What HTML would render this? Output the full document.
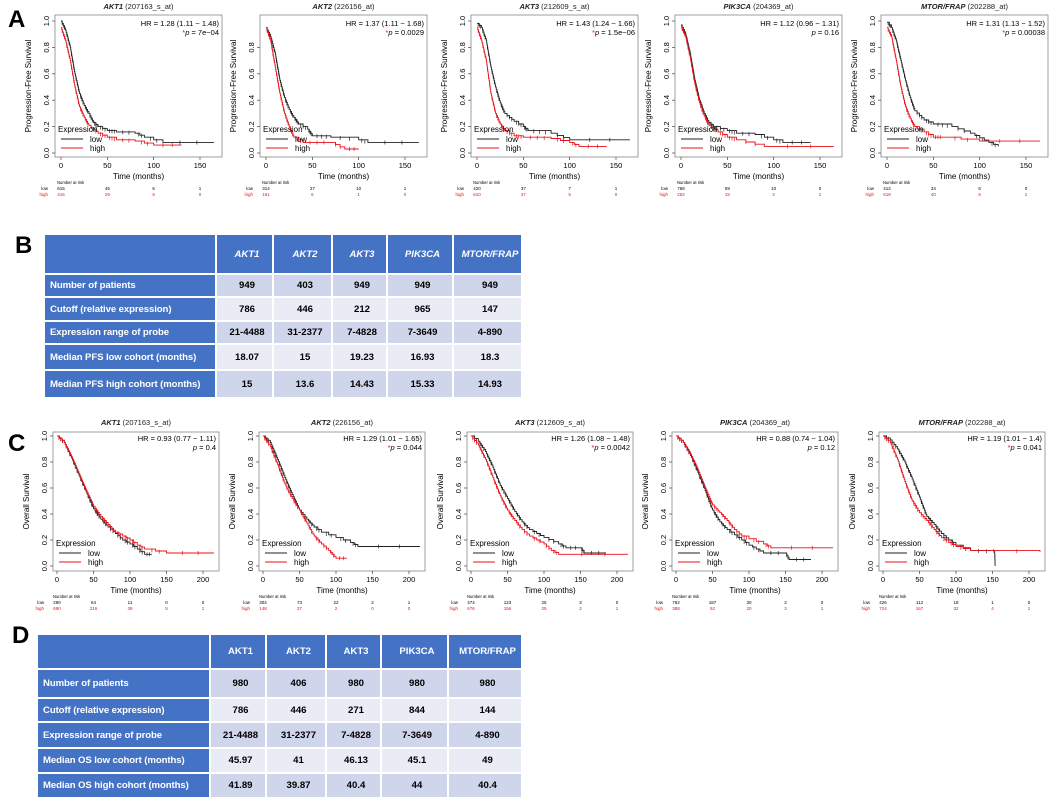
<!DOCTYPE html>
<html><head><meta charset="utf-8">
<style>
body{margin:0;background:#fff;width:1050px;height:798px;overflow:hidden;position:relative;font-family:"Liberation Sans",sans-serif}
svg{position:absolute;left:0;top:0}
.tbl{position:absolute;border-collapse:collapse;font-family:"Liberation Sans",sans-serif;font-size:9.6px;font-weight:bold;table-layout:fixed}
.tbl td{border:2px solid #fff;padding:0 0 0 5px;color:#000;text-align:center;white-space:nowrap;overflow:hidden}
.tbl td.lab{background:#4472c4;color:#fff;text-align:left;letter-spacing:-0.1px}
.tbl tr.h td{background:#4472c4;color:#fff}
.tbl tr.o td{background:#cfd5ea}
.tbl tr.e td{background:#e9ebf5}
.tbl tr.o td.lab,.tbl tr.e td.lab{background:#4472c4}
.letter{position:absolute;font-weight:bold;font-size:24px;font-family:"Liberation Sans",sans-serif}
</style></head><body>
<div class="letter" style="left:8px;top:6px">A</div>
<div class="letter" style="left:15px;top:232px">B</div>
<div class="letter" style="left:8px;top:430px">C</div>
<div class="letter" style="left:12px;top:622px">D</div>

<table class="tbl" style="left:43px;top:233px;width:480px">
<colgroup><col style="width:172px"><col style="width:57px"><col style="width:59px"><col style="width:55px"><col style="width:66px"><col></colgroup>
<tr class="h" style="height:40px"><td></td><td><i>AKT1</i></td><td><i>AKT2</i></td><td><i>AKT3</i></td><td><i>PIK3CA</i></td><td><i>MTOR/FRAP</i></td></tr>
<tr class="o" style="height:23px"><td class="lab">Number of patients</td><td>949</td><td>403</td><td>949</td><td>949</td><td>949</td></tr>
<tr class="e" style="height:24px"><td class="lab">Cutoff (relative expression)</td><td>786</td><td>446</td><td>212</td><td>965</td><td>147</td></tr>
<tr class="o" style="height:23px"><td class="lab">Expression range of probe</td><td>21-4488</td><td>31-2377</td><td>7-4828</td><td>7-3649</td><td>4-890</td></tr>
<tr class="e" style="height:26px"><td class="lab">Median PFS low cohort (months)</td><td>18.07</td><td>15</td><td>19.23</td><td>16.93</td><td>18.3</td></tr>
<tr class="o" style="height:28px"><td class="lab">Median PFS high cohort (months)</td><td>15</td><td>13.6</td><td>14.43</td><td>15.33</td><td>14.93</td></tr>
</table>

<table class="tbl" style="left:36px;top:633px;width:487px">
<colgroup><col style="width:173px"><col style="width:56px"><col style="width:60px"><col style="width:55px"><col style="width:67px"><col></colgroup>
<tr class="h" style="height:35px"><td></td><td>AKT1</td><td>AKT2</td><td>AKT3</td><td>PIK3CA</td><td>MTOR/FRAP</td></tr>
<tr class="o" style="height:29px"><td class="lab">Number of patients</td><td>980</td><td>406</td><td>980</td><td>980</td><td>980</td></tr>
<tr class="e" style="height:24px"><td class="lab">Cutoff (relative expression)</td><td>786</td><td>446</td><td>271</td><td>844</td><td>144</td></tr>
<tr class="o" style="height:26px"><td class="lab">Expression range of probe</td><td>21-4488</td><td>31-2377</td><td>7-4828</td><td>7-3649</td><td>4-890</td></tr>
<tr class="e" style="height:25px"><td class="lab">Median OS low cohort (months)</td><td>45.97</td><td>41</td><td>46.13</td><td>45.1</td><td>49</td></tr>
<tr class="o" style="height:25px"><td class="lab">Median OS high cohort (months)</td><td>41.89</td><td>39.87</td><td>40.4</td><td>44</td><td>40.4</td></tr>
</table>

<svg id="s" width="1050" height="798" xmlns="http://www.w3.org/2000/svg"></svg>
<script>
// ---- data ----
const genes = ["AKT1","AKT2","AKT3","PIK3CA","MTOR/FRAP"];
const probes = ["207163_s_at","226156_at","212609_s_at","204369_at","202288_at"];
const pfsHR = ["HR = 1.28 (1.11 − 1.48)","HR = 1.37 (1.11 − 1.68)","HR = 1.43 (1.24 − 1.66)","HR = 1.12 (0.96 − 1.31)","HR = 1.31 (1.13 − 1.52)"];
const pfsP = ["p = 7e−04","p = 0.0029","p = 1.5e−06","p = 0.16","p = 0.00038"];
const pfsSig = [true,true,true,false,true];
const osHR = ["HR = 0.93 (0.77 − 1.11)","HR = 1.29 (1.01 − 1.65)","HR = 1.26 (1.08 − 1.48)","HR = 0.88 (0.74 − 1.04)","HR = 1.19 (1.01 − 1.4)"];
const osP = ["p = 0.4","p = 0.044","p = 0.0042","p = 0.12","p = 0.041"];
const osSig = [false,true,true,false,true];
const pfsTicksX = [0,50,100,150];
const osTicksX = [0,50,100,150,200];
const ticksY = [0,0.2,0.4,0.6,0.8,1.0];
const pfsRiskLow = [[615,45,6,1],[314,27,10,1],[420,37,7,1],[768,59,10,0],[412,34,6,0]];
const pfsRiskHigh = [[415,29,6,0],[161,6,1,0],[610,37,5,0],[262,15,2,1],[618,40,6,1]];
const osRiskLow = [[290,64,11,0,0],[304,73,22,2,1],[474,123,25,3,0],[762,187,30,2,0],[426,112,18,1,0]];
const osRiskHigh = [[690,216,39,5,1],[148,37,2,0,0],[676,156,25,2,1],[388,92,20,3,1],[724,167,32,4,1]];
const pfsLow = [
 [[0,1],[5,.93],[10,.8],[15,.6],[20,.45],[25,.36],[30,.3],[35,.23],[40,.2],[50,.17],[60,.16],[80,.15],[90,.12],[110,.08],[165,.08]],
 [[0,.95],[5,.88],[10,.75],[15,.55],[20,.42],[25,.33],[30,.27],[35,.22],[45,.18],[50,.13],[70,.12],[100,.1],[110,.08],[165,.08]],
 [[0,.98],[5,.95],[10,.85],[15,.65],[20,.5],[25,.38],[30,.3],[40,.24],[50,.2],[55,.17],[80,.15],[100,.1],[165,.1]],
 [[0,.97],[5,.9],[10,.75],[15,.55],[20,.4],[25,.3],[30,.23],[35,.2],[50,.17],[60,.15],[80,.14],[100,.1],[110,.08],[140,.08]],
 [[0,.99],[5,.95],[10,.85],[15,.7],[20,.55],[25,.42],[30,.32],[40,.25],[50,.22],[70,.2],[90,.15],[110,.08],[120,.05]]];
const pfsHigh = [
 [[0,.95],[5,.85],[10,.7],[15,.5],[20,.35],[25,.27],[30,.21],[40,.15],[50,.12],[60,.1],[80,.09],[100,.06],[130,.06]],
 [[0,.95],[5,.85],[10,.65],[15,.45],[20,.3],[25,.2],[30,.12],[40,.08],[70,.08],[85,.03],[100,.03]],
 [[0,.95],[5,.85],[10,.7],[15,.45],[20,.3],[25,.22],[30,.17],[40,.13],[50,.12],[80,.11],[100,.08],[110,.05],[140,.05]],
 [[0,.96],[5,.88],[10,.72],[15,.52],[20,.38],[25,.28],[30,.21],[40,.16],[50,.12],[60,.1],[90,.05],[165,.05]],
 [[0,.95],[5,.88],[10,.7],[15,.5],[20,.35],[25,.26],[30,.2],[40,.16],[50,.12],[60,.12],[100,.09],[165,.09]]];
const osLow = [
 [[0,1],[10,.95],[20,.83],[30,.7],[40,.57],[50,.44],[60,.36],[70,.3],[80,.25],[90,.2],[100,.17],[110,.13],[120,.09],[130,.09]],
 [[0,1],[10,.95],[20,.82],[30,.68],[40,.55],[50,.43],[60,.36],[70,.3],[80,.26],[100,.22],[120,.18],[130,.15],[215,.15]],
 [[0,1],[10,.96],[20,.88],[30,.76],[40,.62],[50,.52],[60,.42],[70,.34],[80,.28],[100,.22],[120,.17],[130,.14],[150,.14],[155,.1],[185,.1]],
 [[0,1],[10,.95],[20,.85],[30,.72],[40,.58],[50,.43],[60,.34],[70,.28],[80,.24],[90,.2],[100,.16],[120,.1],[150,.1],[155,.05],[185,.05]],
 [[0,1],[10,.97],[20,.9],[30,.8],[40,.67],[50,.53],[60,.38],[70,.32],[80,.25],[90,.2],[100,.16],[120,.12],[153,.11],[153.5,0]]];
const osHigh = [
 [[0,1],[10,.95],[20,.84],[30,.71],[40,.58],[50,.46],[60,.38],[70,.32],[80,.26],[90,.23],[100,.2],[110,.16],[120,.13],[150,.1],[215,.1]],
 [[0,1],[10,.92],[20,.78],[30,.63],[40,.52],[50,.43],[60,.33],[70,.23],[80,.17],[90,.12],[100,.06],[115,.06]],
 [[0,1],[10,.93],[20,.82],[30,.68],[40,.54],[50,.43],[60,.35],[70,.28],[80,.23],[100,.17],[110,.12],[120,.09],[215,.09]],
 [[0,1],[10,.95],[20,.86],[30,.74],[40,.6],[50,.47],[60,.41],[70,.35],[80,.28],[90,.23],[100,.21],[120,.17],[130,.14],[215,.14]],
 [[0,1],[10,.95],[20,.82],[30,.65],[40,.5],[50,.41],[60,.35],[70,.28],[80,.22],[90,.18],[100,.15],[120,.12],[215,.11]]];

const svg = document.getElementById('s');
const NS = 'http://www.w3.org/2000/svg';
function mk(tag, attrs, parent){const e=document.createElementNS(NS,tag);for(const k in attrs)e.setAttribute(k,attrs[k]);(parent||svg).appendChild(e);return e;}
function txt(x,y,s,size,attrs,parent){const t=mk('text',Object.assign({x:x,y:y,'font-size':size,'font-family':'Liberation Sans, sans-serif'},attrs||{}),parent);t.textContent=s;return t;}

function panel(i, cfg){
  const z = cfg.zeros[i];
  const g = mk('g',{});
  
  
  const xs = t => z + t*cfg.pxPerT;
  const ys = s => cfg.y0 - s*(cfg.y0-cfg.y1);
  const fr = mk('rect',{x:z+cfg.fl,y:cfg.ft,width:cfg.fw,height:cfg.fb-cfg.ft,fill:'none',stroke:'#888','stroke-width':0.8},g);
  
  
  const tt = txt(z+cfg.fl+cfg.fw/2, cfg.titleY, '', 7.5, {'text-anchor':'middle','fill':'#222'}, g);
  
  
  const ts1=mk('tspan',{'font-style':'italic','font-weight':'bold'},tt); ts1.textContent=genes[i];
  const ts2=mk('tspan',{},tt); ts2.textContent=' ('+probes[i]+')';
  cfg.ticksX.forEach(v=>{
    mk('line',{x1:xs(v),x2:xs(v),y1:cfg.fb,y2:cfg.fb+3,stroke:'#444','stroke-width':0.7},g);
    const tl=txt(xs(v),cfg.fb+11,String(v),7.5,{'text-anchor':'middle'},g);
    
    
  });
  const xt=txt(z+cfg.fl+cfg.fw/2,cfg.fb+22,'Time (months)',8,{'text-anchor':'middle'},g);
  
  
  cfg.ticksY.forEach(v=>{
    if(cfg.skipTop && cfg.skipTop[i] && v===1) return;
    const yy=ys(v);
    mk('line',{x1:z+cfg.fl,x2:z+cfg.fl-3,y1:yy,y2:yy,stroke:'#444','stroke-width':0.7},g);
    const tl=txt(z+cfg.fl-6,yy,v.toFixed(1),7.5,{'text-anchor':'middle',transform:'rotate(-90 '+(z+cfg.fl-6)+' '+yy+')'},g);
    
    
  });
  const ym=(cfg.ft+cfg.fb)/2, yx=z+cfg.yTitleDx;
  const yt=txt(yx,ym,cfg.yTitle,8,{'text-anchor':'middle',transform:'rotate(-90 '+yx+' '+ym+')'},g);
  
  
  [[cfg.low[i],'#222','low'],[cfg.high[i],'#e8131a','high']].forEach(([pts,col,nm])=>{
    // many small steps along linear segments to mimic dense KM curve
    let d='M'+xs(pts[0][0]).toFixed(1)+','+ys(pts[0][1]).toFixed(1);
    const ticks=[];
    for(let k=0;k<pts.length-1;k++){
      const [t0,s0]=pts[k],[t1,s1]=pts[k+1];
      const drop = s0-s1;
      const n = Math.max(1, Math.round(drop*60));
      for(let m=1;m<=n;m++){
        const tx=t0+(t1-t0)*m/n, sv=s0-drop*m/n;
        d+=' H'+xs(tx).toFixed(1)+' V'+ys(sv).toFixed(1);
      }
      const nt = t0<60?3:2;
      for(let m=1;m<=nt;m++){
        const f=m/(nt+1), tx=t0+(t1-t0)*f, sv=s0-drop*f;
        ticks.push([tx,sv]);
      }
    }
    const p=mk('path',{d:d,fill:'none',stroke:col,'stroke-width':0.9},g);
    
    
    ticks.forEach(([tx,sv])=>mk('line',{x1:xs(tx),x2:xs(tx),y1:ys(sv)-2,y2:ys(sv)+2,stroke:col,'stroke-width':0.7},g));
  });
  const hr=txt(z+cfg.fl+cfg.fw-3,cfg.hrY,cfg.hr[i],7.5,{'text-anchor':'end'},g);
  
  
  const pt=txt(z+cfg.fl+cfg.fw-3,cfg.hrY+9,'',7.5,{'text-anchor':'end'},g);
  
  
  if(cfg.sig[i]){const st=mk('tspan',{fill:'#e8131a'},pt);st.textContent='*';}
  const pi=mk('tspan',{'font-style':'italic'},pt);pi.textContent='p';
  const pr=mk('tspan',{},pt);pr.textContent=cfg.p[i].slice(1);
  const lx=z+cfg.fl+3, ly=cfg.legY;
  const lg=mk('g',{},g);
  
  
  txt(lx,ly,'Expression',8,{},lg);
  mk('line',{x1:lx+3,x2:lx+25,y1:ly+7,y2:ly+7,stroke:'#222','stroke-width':0.9},lg);
  txt(lx+32,ly+10,'low',8,{},lg);
  mk('line',{x1:lx+3,x2:lx+25,y1:ly+16,y2:ly+16,stroke:'#e8131a','stroke-width':0.9},lg);
  txt(lx+32,ly+19,'high',8,{},lg);
  const rg=mk('g',{},g);
  
  
  txt(xs(0)-4,cfg.riskY,'Number at risk',4.2,{},rg);
  txt(xs(0)-13,cfg.riskY+6,'low',4.5,{'text-anchor':'end'},rg);
  txt(xs(0)-13,cfg.riskY+12,'high',4.5,{'text-anchor':'end',fill:'#e8131a'},rg);
  cfg.ticksX.forEach((v,k)=>{
    txt(xs(v),cfg.riskY+6,String(cfg.rlow[i][k]),4.5,{'text-anchor':'middle'},rg);
    txt(xs(v),cfg.riskY+12,String(cfg.rhigh[i][k]),4.5,{'text-anchor':'middle',fill:'#e8131a'},rg);
  });
}
const pfsCfg={kind:'pfs',zeros:[61,266,477,681,887],pxPerT:139/150,y0:153,y1:21,fl:-6,fw:167,ft:15,fb:157,
  titleY:9,ticksX:pfsTicksX,ticksY:ticksY,skipTop:[false,true,false,false,false],yTitle:'Progression-Free Survival',yTitleDx:-30,
  low:pfsLow,high:pfsHigh,hr:pfsHR,p:pfsP,sig:pfsSig,hrY:26,legY:132,riskY:184,rlow:pfsRiskLow,rhigh:pfsRiskHigh};
const osCfg={kind:'os',zeros:[57,263,471,676,883],pxPerT:146/200,y0:566,y1:436,fl:-4,fw:166,ft:432,fb:571,
  titleY:425,ticksX:osTicksX,ticksY:ticksY,yTitle:'Overall Survival',yTitleDx:-28,
  low:osLow,high:osHigh,hr:osHR,p:osP,sig:osSig,hrY:441,legY:546,riskY:598,rlow:osRiskLow,rhigh:osRiskHigh};
for(let i=0;i<5;i++){panel(i,pfsCfg);panel(i,osCfg);}
</script>
</body></html>
